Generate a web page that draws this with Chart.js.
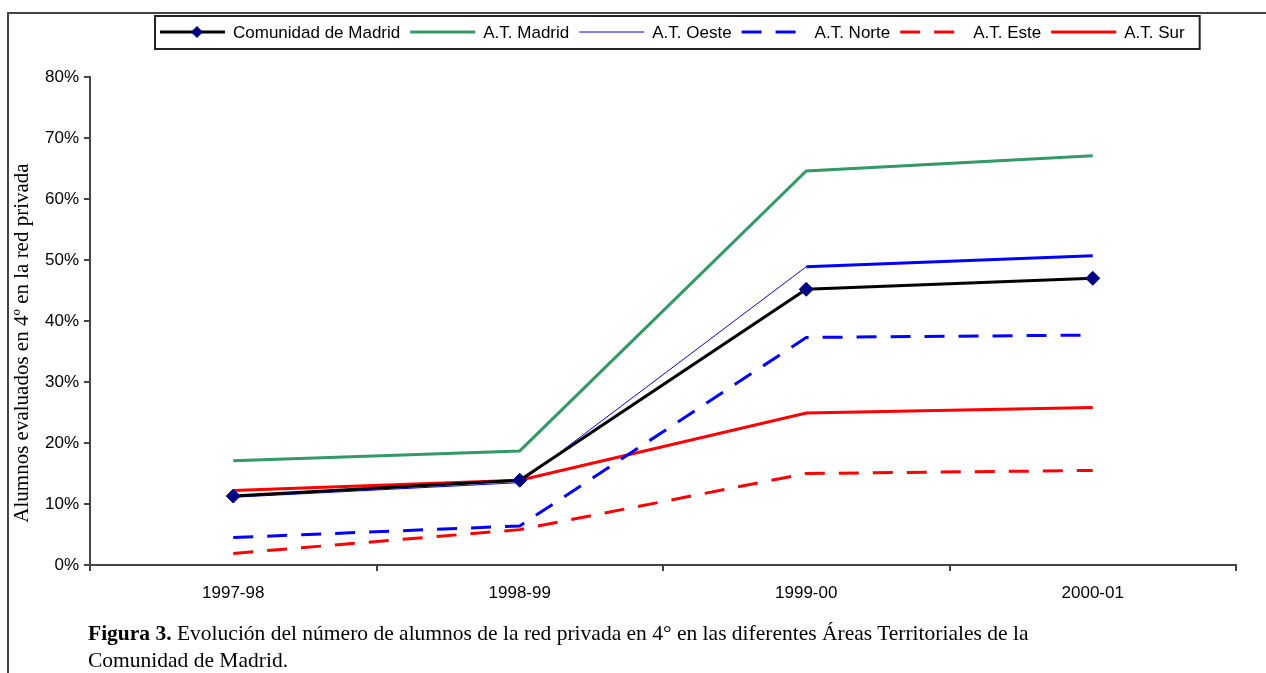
<!DOCTYPE html>
<html>
<head>
<meta charset="utf-8">
<script src="https://cdn.jsdelivr.net/npm/chart.js@4"></script>
<style>
  html, body { margin: 0; padding: 0; background: #fff; }
  #wrap { position: relative; width: 1266px; height: 673px; overflow: hidden; }
  #marco { position: absolute; left: 7px; top: 12px; width: 1300px; height: 700px;
           border-top: 2px solid #444; border-left: 2px solid #444; }
  #grafico { position: absolute; left: 0; top: 0; }
  #pie { position: absolute; left: 88px; top: 620px; font-family: 'Liberation Serif', 'Times New Roman', serif;
         font-size: 21.5px; line-height: 27px; color: #000; white-space: nowrap; }
</style>
</head>
<body>
<div id="wrap">
  <div id="marco"></div>
  <canvas id="grafico" width="1266" height="673"></canvas>
  <div id="pie"><b>Figura 3.</b> Evolución del número de alumnos de la red privada en 4° en las diferentes Áreas Territoriales de la<br>Comunidad de Madrid.</div>
</div>
<script>
const cursos = ['1997-98', '1998-99', '1999-00', '2000-01'];
const comunidad = [11.3, 13.9, 45.2, 47.0];
const atMadrid = [17.1, 18.7, 64.6, 67.1];
const atOeste = [11.1, 13.5, 48.9, 50.7];
const atNorte = [4.5, 6.4, 37.3, 37.7];
const atEste = [1.9, 5.8, 15.0, 15.5];
const atSur = [12.2, 13.9, 24.9, 25.8];
const tituloY = 'Alumnos evaluados en 4º en la red privada';

const fuente = "'Liberation Sans', Arial, sans-serif";

// leyenda dibujada a mano, como la de Excel
const leyendaPlugin = {
  id: 'leyendaExcel',
  afterDraw(chart) {
    const ctx = chart.ctx;
    const sets = chart.data.datasets;
    ctx.save();
    ctx.font = '17px ' + fuente;
    ctx.textBaseline = 'middle';
    const y = 32;
    let x = 160;
    const ini = 155;
    sets.forEach(ds => {
      ctx.strokeStyle = ds.borderColor;
      ctx.lineWidth = ds.legendWidth || ds.borderWidth;
      ctx.setLineDash(ds.borderDash || []);
      ctx.beginPath();
      ctx.moveTo(x, y);
      ctx.lineTo(x + 65, y);
      ctx.stroke();
      ctx.setLineDash([]);
      if (ds.pointRadius > 0) {
        const r = 6;
        ctx.fillStyle = ds.pointBackgroundColor;
        ctx.beginPath();
        ctx.moveTo(x + 37, y - r);
        ctx.lineTo(x + 37 + r, y);
        ctx.lineTo(x + 37, y + r);
        ctx.lineTo(x + 37 - r, y);
        ctx.closePath();
        ctx.fill();
      }
      ctx.fillStyle = '#000';
      ctx.fillText(ds.label, x + 73, y + 1);
      x += 73 + ctx.measureText(ds.label).width + 10;
    });
    ctx.strokeStyle = '#222';
    ctx.lineWidth = 2;
    ctx.strokeRect(ini, 16, x + 5 - ini, 33);

    // titulo del eje Y
    ctx.translate(22, 343);
    ctx.rotate(-Math.PI / 2);
    ctx.font = "21px 'Liberation Serif', 'Times New Roman', serif";
    ctx.textAlign = 'center';
    ctx.fillText(tituloY, 0, 0);
    ctx.restore();
  }
};

new Chart(document.getElementById('grafico'), {
  type: 'line',
  data: {
    labels: cursos,
    datasets: [
      { label: 'Comunidad de Madrid', data: comunidad, borderColor: '#000', borderWidth: 3,
        pointStyle: 'rectRot', pointRadius: 7, pointBackgroundColor: '#000080', pointBorderColor: '#000080', pointBorderWidth: 1 },
      { label: 'A.T. Madrid', data: atMadrid, borderColor: '#339966', borderWidth: 3, pointRadius: 0 },
      { label: 'A.T. Oeste', data: atOeste, borderColor: '#0000ff', borderWidth: 1, legendWidth: 1, pointRadius: 0,
        segment: { borderWidth: c => c.p0DataIndex === 2 ? 3 : 1 } },
      { label: 'A.T. Norte', data: atNorte, borderColor: '#0000ff', borderWidth: 3, borderDash: [20, 14], pointRadius: 0 },
      { label: 'A.T. Este', data: atEste, borderColor: '#ff0000', borderWidth: 3, borderDash: [20, 14], pointRadius: 0 },
      { label: 'A.T. Sur', data: atSur, borderColor: '#ff0000', borderWidth: 3, pointRadius: 0 }
    ]
  },
  options: {
    responsive: false,
    animation: false,
    devicePixelRatio: 1,
    layout: { padding: { left: 0, top: 77, right: 30, bottom: 0 } },
    plugins: { legend: { display: false }, tooltip: { enabled: false } },
    scales: {
      x: {
        offset: true,
        afterFit: s => { s.height = 108; },
        border: { color: '#444', width: 2 },
        grid: { offset: true, drawOnChartArea: false, drawTicks: true, tickLength: 6, color: '#444', lineWidth: 2 },
        ticks: { color: '#000', font: { family: fuente, size: 17 }, padding: 12, maxRotation: 0 }
      },
      y: {
        min: 0,
        max: 80,
        afterFit: s => { s.width = 90; },
        border: { color: '#444', width: 2 },
        grid: { drawOnChartArea: false, drawTicks: true, tickLength: 6, color: '#444', lineWidth: 2 },
        ticks: { stepSize: 10, color: '#000', font: { family: fuente, size: 17 }, padding: 5,
                 callback: v => v + '%' }
      }
    }
  },
  plugins: [leyendaPlugin]
});
</script>
</body>
</html>
